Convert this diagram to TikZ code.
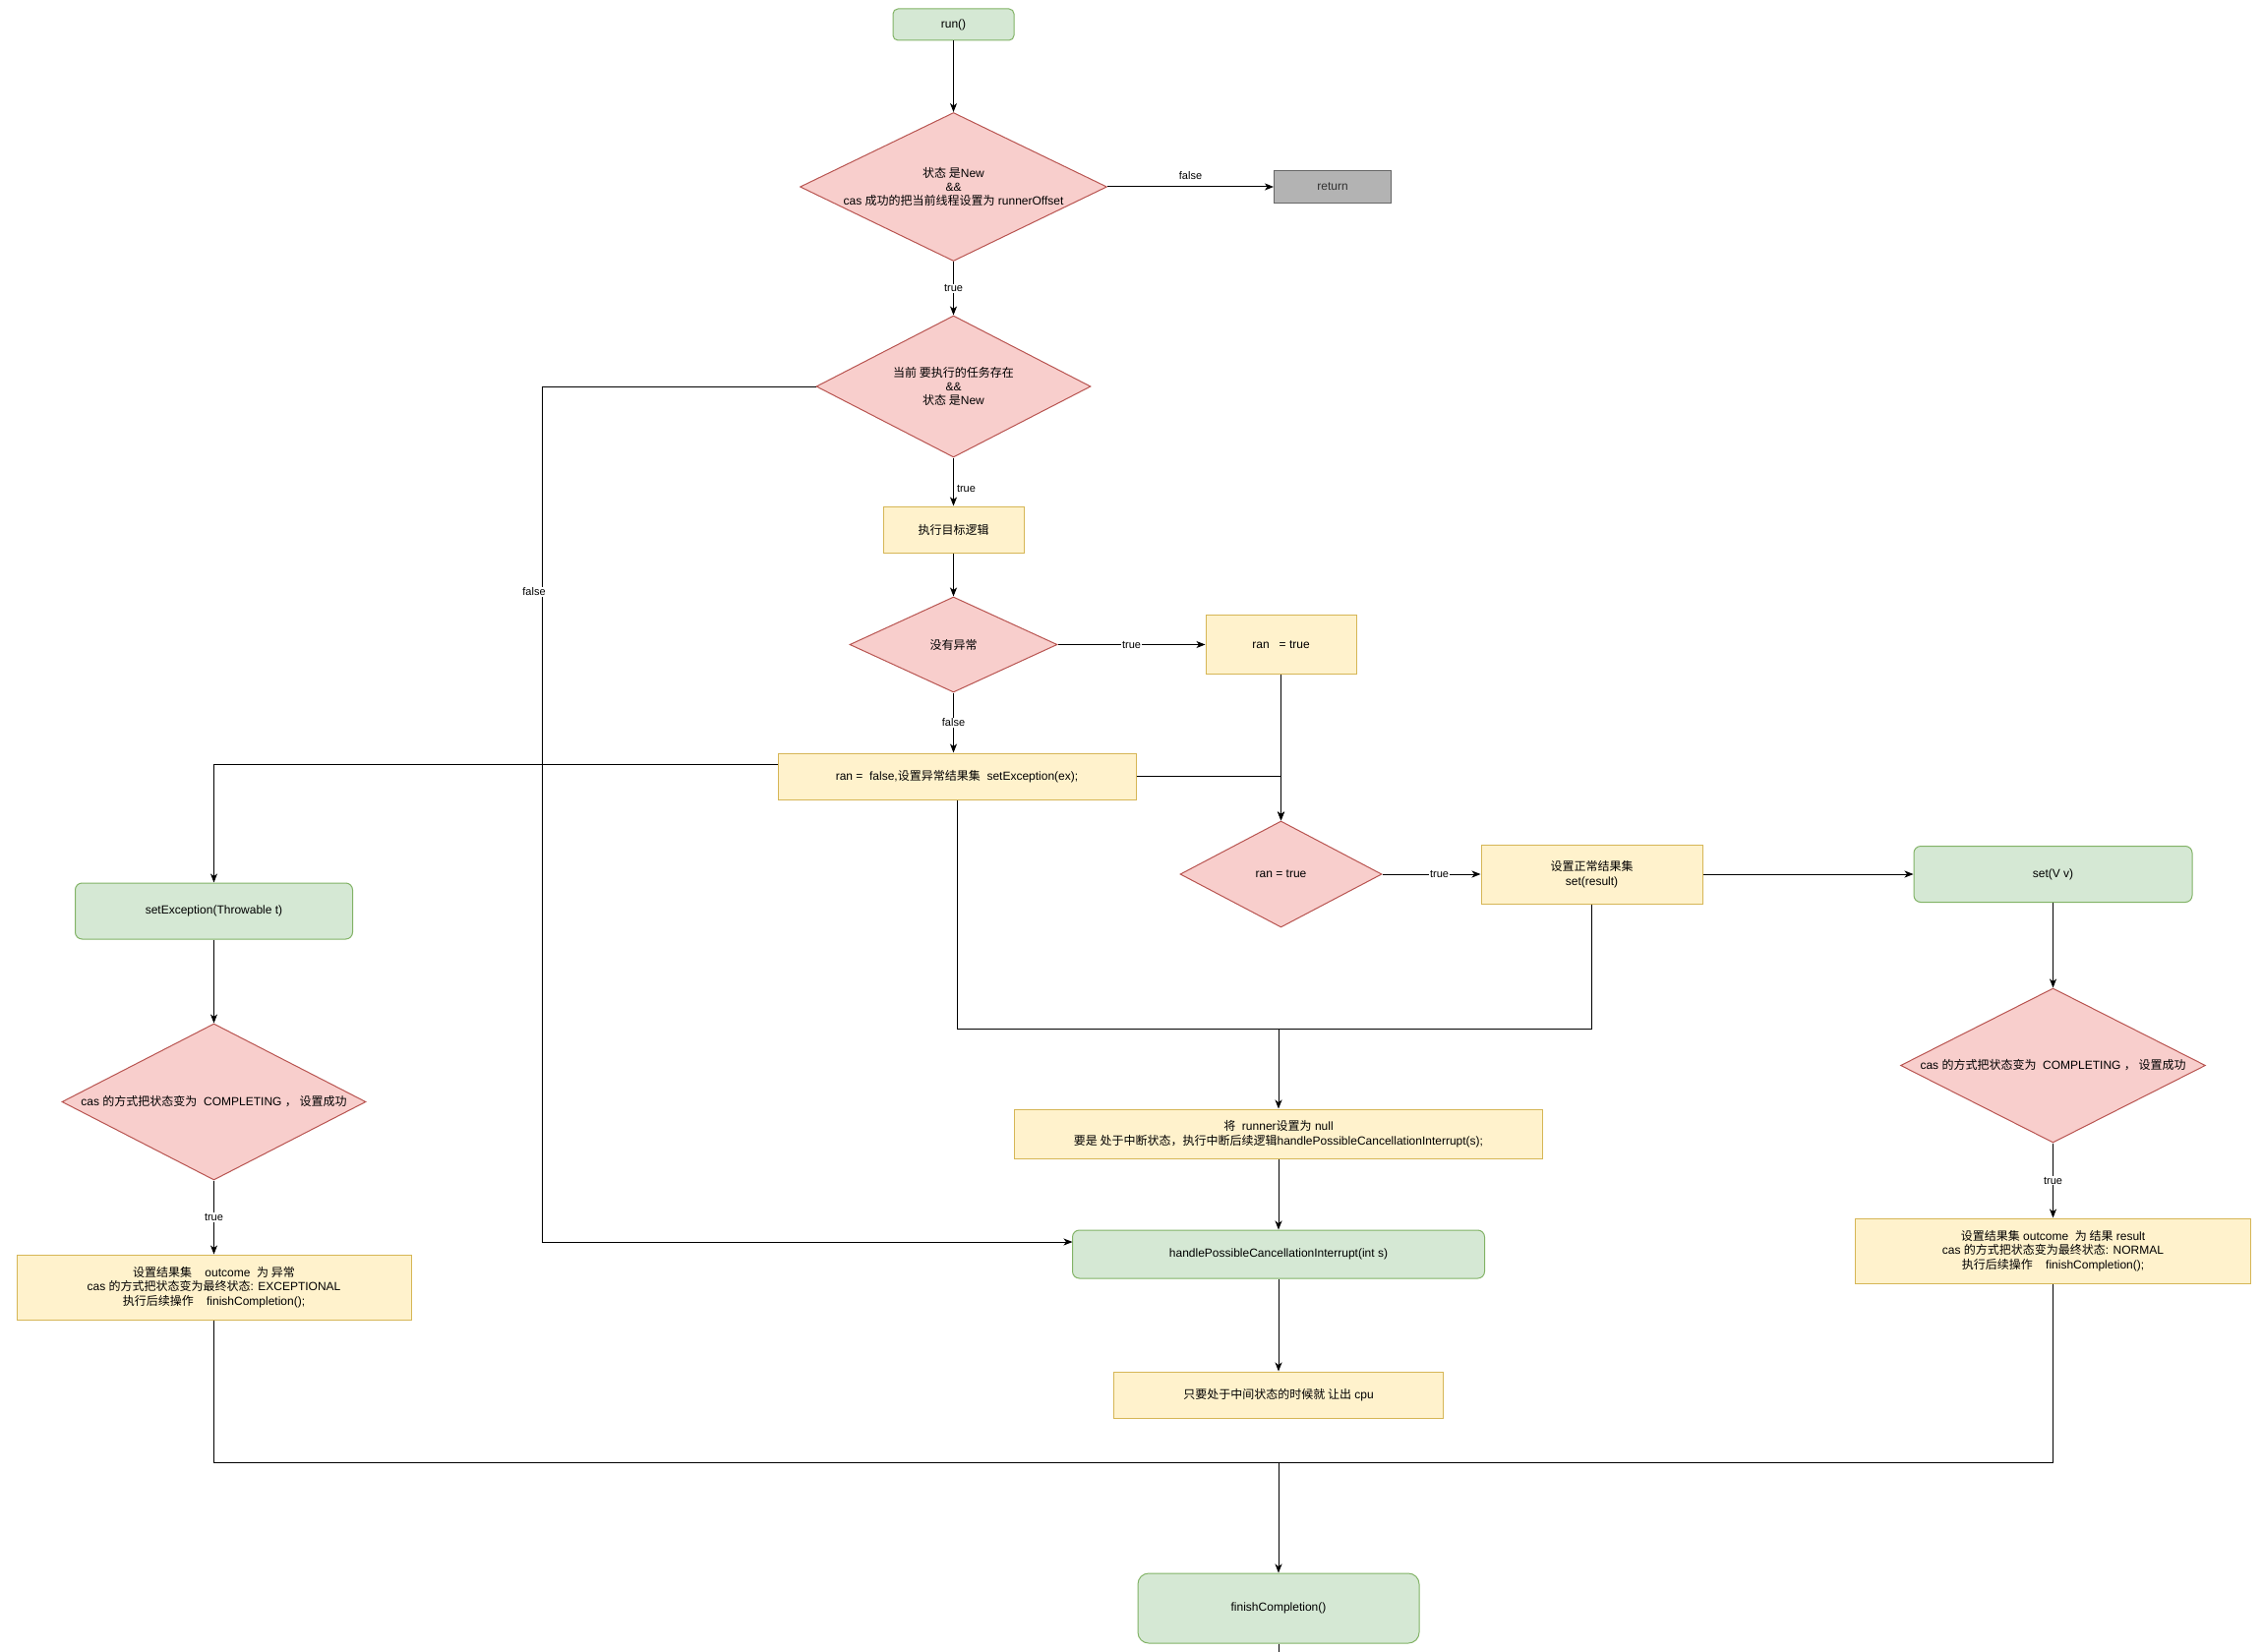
\documentclass[tikz,border=0pt]{standalone}
\usepackage{fontspec}
\setmainfont{Liberation Sans}
\newfontfamily\cjkfont{Noto Sans CJK SC}
\newcommand\zh[1]{{\cjkfont #1}}
\usetikzlibrary{shapes.geometric,arrows.meta}
\definecolor{gfill}{HTML}{D5E8D4}
\definecolor{gline}{HTML}{82B366}
\definecolor{rfill}{HTML}{F8CECC}
\definecolor{rline}{HTML}{B85450}
\definecolor{yfill}{HTML}{FFF2CC}
\definecolor{yline}{HTML}{D6B656}
\definecolor{kfill}{HTML}{B3B3B3}
\definecolor{kline}{HTML}{666666}
\definecolor{ktext}{HTML}{333333}
\tikzset{
  base/.style={draw, line width=1pt, inner sep=0pt, align=center,
    font=\fontsize{12}{14.4}\selectfont, text=black},
  gbox/.style={base, fill=gfill, draw=gline, rounded corners=7pt},
  ybox/.style={base, fill=yfill, draw=yline},
  kbox/.style={base, fill=kfill, draw=kline, text=ktext},
  dia/.style={diamond, draw=rline, fill=rfill, line width=1pt, inner sep=0pt},
  txt/.style={inner sep=0pt, align=center, font=\fontsize{12}{14.4}\selectfont},
  conn/.style={line width=1pt, -{Stealth[length=9pt,width=7pt,inset=2.5pt]}},
  plain/.style={line width=1pt},
  elab/.style={fill=white, inner sep=1pt, font=\fontsize{11}{13}\selectfont},
}
\begin{document}
\begin{tikzpicture}[x=1pt,y=-1pt]
\fill[white] (0,0) rectangle (2300,1680);
\useasboundingbox (0,0) rectangle (2300,1680);

% ---------- nodes ----------
\node[gbox, rounded corners=5pt, minimum width=123pt, minimum height=32pt] (run) at (969.5,25) {run()};

\node[dia, minimum width=312pt, minimum height=151pt] (d1) at (969.5,190) {};
\node[txt] (d1t) at (d1.center) {\zh{状态 是}New\\\&\&\\cas \zh{成功的把当前线程设置为} runnerOffset};

\node[kbox, minimum width=119pt, minimum height=33pt] (ret) at (1355,190) {return};

\node[dia, minimum width=279pt, minimum height=144pt] (d2) at (969.5,393) {};
\node[txt] (d2t) at (d2.center) {\zh{当前 要执行的任务存在}\\\&\&\\\zh{状态 是}New};

\node[ybox, minimum width=143pt, minimum height=47pt] (exec) at (969.5,538.5) {\zh{执行目标逻辑}};

\node[dia, minimum width=211pt, minimum height=97pt] (d3) at (969.5,655.5) {};
\node[txt] (d3t) at (d3.center) {\zh{没有异常}};

\node[ybox, minimum width=153pt, minimum height=60pt] (rant) at (1302.5,655.5) {ran \ \ = true};

\node[ybox, minimum width=364pt, minimum height=47pt] (ranf) at (973,789.5) {ran = \ false,\zh{设置异常结果集}\ \ setException(ex);};

\node[dia, minimum width=205pt, minimum height=108pt] (d4) at (1302.5,889) {};
\node[txt] (d4t) at (d4.center) {ran = true};

\node[ybox, minimum width=225pt, minimum height=60pt] (setnorm) at (1618.5,889) {\zh{设置正常结果集}\\set(result)};

\node[gbox, minimum width=283pt, minimum height=57pt] (setv) at (2087.5,889) {set(V v)};

\node[dia, minimum width=310pt, minimum height=157pt] (dR) at (2087.5,1083.5) {};
\node[txt] (dRt) at (dR.center) {cas \zh{的方式把状态变为}\ \ COMPLETING \zh{，\ 设置成功}};

\node[ybox, minimum width=402pt, minimum height=66pt] (yR) at (2087.5,1272) {\zh{设置结果集} outcome \ \zh{为 结果} result\\cas \zh{的方式把状态变为最终状态}: NORMAL\\\zh{执行后续操作}\ \ \ \ finishCompletion();};

\node[gbox, minimum width=282pt, minimum height=57pt] (setex) at (217.5,926.5) {setException(Throwable t)};

\node[dia, minimum width=309pt, minimum height=159pt] (dL) at (217.5,1120.5) {};
\node[txt] (dLt) at (dL.center) {cas \zh{的方式把状态变为}\ \ COMPLETING \zh{，\ 设置成功}};

\node[ybox, minimum width=401pt, minimum height=66pt] (yL) at (217.5,1309) {\zh{设置结果集}\ \ \ \ outcome \ \zh{为 异常}\\cas \zh{的方式把状态变为最终状态}: EXCEPTIONAL\\\zh{执行后续操作}\ \ \ \ finishCompletion();};

\node[ybox, minimum width=537pt, minimum height=50pt] (runner) at (1300,1153) {\zh{将}\ \ runner\zh{设置为} null\\\zh{要是 处于中断状态，执行中断后续逻辑}handlePossibleCancellationInterrupt(s);};

\node[gbox, minimum width=419pt, minimum height=49pt] (hpci) at (1300,1275.5) {handlePossibleCancellationInterrupt(int s)};

\node[ybox, minimum width=335pt, minimum height=47pt] (cpu) at (1300,1418.5) {\zh{只要处于中间状态的时候就 让出} cpu};

\node[gbox, rounded corners=11pt, minimum width=286pt, minimum height=71pt] (fin) at (1300,1635.5) {finishCompletion()};

% ---------- helper coordinates ----------
\coordinate (loopTop) at (551,393);
\coordinate (loopBot) at (551,1263);
\coordinate (hpciIn) at (1090.5,1263);
\coordinate (ranfL) at (791,777);
\coordinate (ranfR) at (1302.5,789.5);
\coordinate (m1) at (973,1046);
\coordinate (mj) at (1300,1046);
\coordinate (b1) at (1300,1487);
\coordinate (fend) at (1300,1680);

% ---------- connectors ----------
\draw[conn] (run.south) -- (d1.north);
\draw[conn] (d1.east) -- node[above=7pt, inner sep=0pt, font=\fontsize{11}{13}\selectfont] (lf1) {false} (ret.west);
\draw[conn] (d1.south) -- node[elab] (lt1) {true} (d2.north);
\draw[conn] (d2.south) -- node[pos=0.64, anchor=west, xshift=3pt, inner sep=0pt, font=\fontsize{11}{13}\selectfont] (lt2) {true} (exec.north);
\draw[conn] (d2.west) -- (loopTop) -- node[elab, pos=0.24, xshift=-8pt] (lf2) {false} (loopBot) -- (hpciIn);
\draw[conn] (exec.south) -- (d3.north);
\draw[conn] (d3.east) -- node[elab] (lt3) {true} (rant.west);
\draw[conn] (d3.south) -- node[elab] (lf3) {false} (d3.south |- ranf.north);
\draw[conn] (ranfL) -| (setex.north);
\draw[conn] (ranf.east) -- (ranfR) -- (d4.north);
\draw[conn] (rant.south) -- (d4.north);
\draw[plain] (ranf.south) -- (m1) -- (mj);
\draw[plain] (setnorm.south) |- (mj);
\draw[conn] (mj) -- (runner.north);
\draw[conn] (d4.east) -- node[elab, pos=0.58] (lt4) {true} (setnorm.west);
\draw[conn] (setnorm.east) -- (setv.west);
\draw[conn] (setv.south) -- (dR.north);
\draw[conn] (dR.south) -- node[elab] (lt5) {true} (yR.north);
\draw[conn] (setex.south) -- (dL.north);
\draw[conn] (dL.south) -- node[elab] (lt6) {true} (yL.north);
\draw[conn] (runner.south) -- (hpci.north);
\draw[conn] (hpci.south) -- (cpu.north);
\draw[plain] (yL.south) |- (b1);
\draw[plain] (yR.south) |- (b1);
\draw[conn] (b1) -- (fin.north);
\draw[plain] (fin.south) -- (fend);
\end{tikzpicture}
\end{document}
